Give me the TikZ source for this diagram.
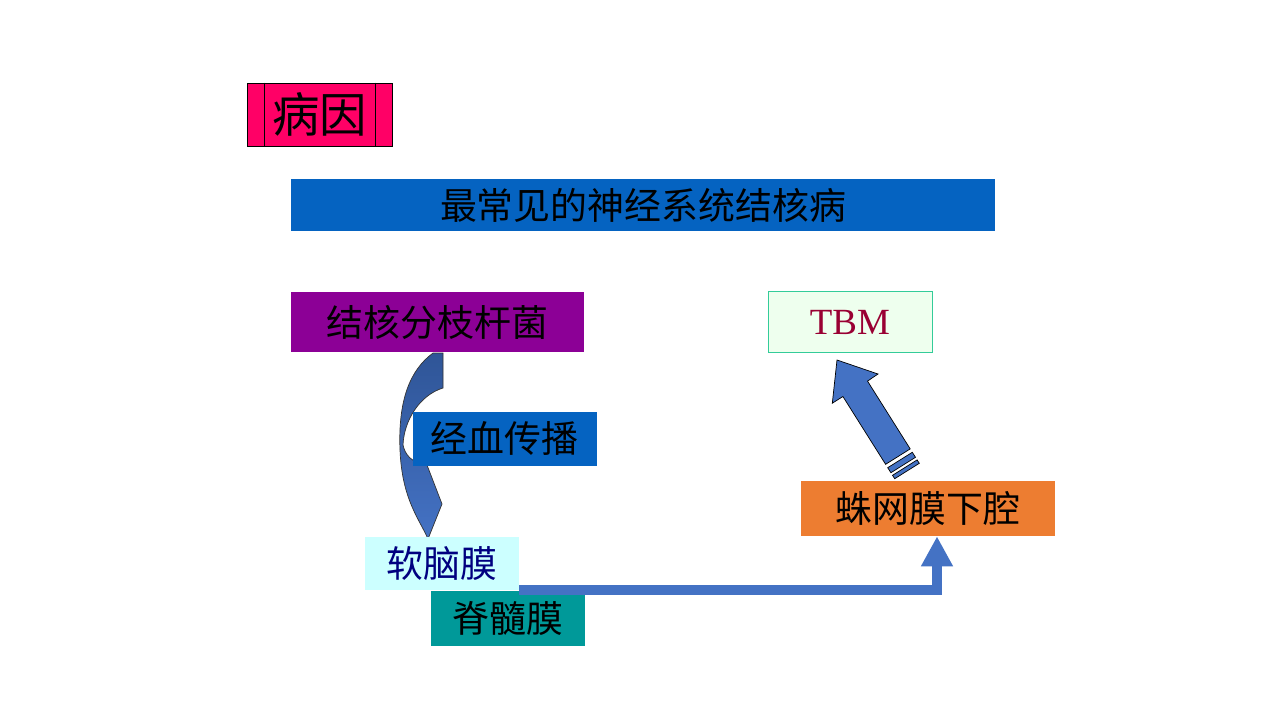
\documentclass[tikz,border=0pt]{standalone}
\usepackage{fontspec}
\setmainfont{Liberation Serif}
\newfontfamily\cjk{Noto Sans CJK SC}
\usepackage{tikz}
\usetikzlibrary{arrows.meta, positioning}

\definecolor{causered}{RGB}{255,0,102}
\definecolor{bannerblue}{RGB}{5,99,193}
\definecolor{mtbpurple}{RGB}{140,0,150}
\definecolor{piacyan}{RGB}{204,255,255}
\definecolor{pianavy}{RGB}{0,0,128}
\definecolor{spinalteal}{RGB}{0,153,153}
\definecolor{tbmmint}{RGB}{238,255,238}
\definecolor{tbmline}{RGB}{51,204,153}
\definecolor{tbmred}{RGB}{153,0,51}
\definecolor{sasorange}{RGB}{237,125,49}
\definecolor{arrowblue}{RGB}{68,114,196}
\definecolor{arrowdark}{RGB}{47,85,151}

\begin{document}
\begin{tikzpicture}[x=0.02cm, y=-0.02cm,
  box/.style={inner sep=0pt, text centered, font=\cjk\fontsize{21}{25}\selectfont},
  conn/.style={draw=arrowblue, line width=0.2cm, line join=miter,
    -{Triangle[width=0.6cm, length=0.6cm]}}]
      \useasboundingbox[fill=white] (0,0) rectangle (1280,720);

	     % nodes %
      \node[box, draw=black, fill=causered, minimum width=2.9cm, minimum height=1.26cm,
        font=\cjk\fontsize{27}{32}\selectfont] (cause) at (319.5,114.5) {病因};
      \node[box, fill=bannerblue, minimum width=14.08cm, minimum height=1.04cm] (banner) at (643,205) {最常见的神经系统结核病};
      \node[box, fill=mtbpurple, minimum width=5.86cm, minimum height=1.2cm] (mtb) at (437.5,322) {结核分枝杆菌};

      % curved arrow, partly behind the next box
      \draw[draw=black!80, line width=0.4pt, top color=arrowdark, bottom color=arrowblue]
        (433,353) -- (443,353) -- (443,388) .. controls (420,395) and (404,420) .. (403,445)
        .. controls (405,455) and (412,463) .. (427,465) -- (442,504) -- (428,539)
        .. controls (420,520) and (402,500) .. (400,450)
        .. controls (398,400) and (410,370) .. (433,353) -- cycle;

      \node[box, fill=bannerblue, minimum width=3.68cm, minimum height=1.08cm, below right = 1.18cm and -3.44cm of mtb] (blood) {经血传播};
      \node[box, fill=piacyan, text=pianavy, minimum width=3.08cm, minimum height=1.06cm] (pia) at (442,563.5) {软脑膜};
      \node[box, fill=spinalteal, minimum width=3.08cm, minimum height=1.1cm, below right = 0cm and -1.78cm of pia] (spinal) {脊髓膜};
      \node[box, draw=tbmline, fill=tbmmint, text=tbmred, minimum width=3.28cm, minimum height=1.22cm,
        font=\rmfamily\fontsize{21}{25}\selectfont, right of = mtb, node distance=8.25cm] (tbm) {TBM};
      \node[box, fill=sasorange, minimum width=5.08cm, minimum height=1.1cm] (sas) at (928,508.5) {蛛网膜下腔};

      % inner lines of the title box
      \draw ([xshift=0.36cm]cause.north west) -- ([xshift=0.36cm]cause.south west);
      \draw ([xshift=-0.34cm]cause.north east) -- ([xshift=-0.34cm]cause.south east);

      % edges %
      \draw[conn] (pia.south east) -- ([xshift=0.18cm]pia.south east -| sas.south) -- ([xshift=0.18cm]sas.south);
      \draw[draw=black, line width=0.4pt, fill=arrowblue]
        (837,360) -- (878,374) -- (867.5,381.1) -- (910.2,448.9) -- (885.6,464.3)
        -- (842.9,396.5) -- (832.3,403.2) -- cycle;
      \draw[draw=black, line width=0.4pt, fill=arrowblue]
        (912.3,452.3) -- (915.5,457.3) -- (890.9,472.7) -- (887.7,467.7) -- cycle;
      \draw[draw=black, line width=0.4pt, fill=arrowblue]
        (917.1,459.9) -- (919.3,463.3) -- (894.7,478.7) -- (892.5,475.3) -- cycle;
        \end{tikzpicture}
\end{document}
